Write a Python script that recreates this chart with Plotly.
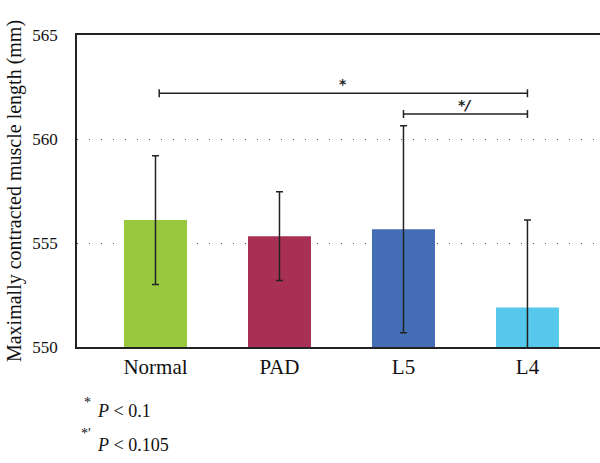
import plotly.graph_objects as go

categories = ["Normal", "PAD", "L5", "L4"]
means = [556.1, 555.33, 555.66, 551.9]
sd = [3.1, 2.13, 4.98, 4.2]
colors = ["#97C83E", "#A83054", "#436EB5", "#55C8EC"]
y_ticks = [550, 555, 560, 565]

# significance brackets: (from index, to index, y level, label)
brackets = [(0.03, 3, 562.2, "<b>*</b>"), (2, 3, 561.2, "<b>*<i>/</i></b>")]

FONT = "Liberation Serif"

fig = go.Figure()
fig.add_trace(go.Bar(
    x=categories, y=means,
    marker=dict(color=colors, line=dict(width=0)),
    width=0.508,
    error_y=dict(type="data", array=sd, visible=True, color="#222222",
                 thickness=1.5, width=3.5),
))

for x0, x1, yv, lab in brackets:
    fig.add_shape(type="line", xref="x", yref="y", x0=x0, x1=x1, y0=yv, y1=yv,
                  line=dict(color="#222222", width=1.5))
    for xx in (x0, x1):
        fig.add_shape(type="line", xref="x", yref="y", x0=xx, x1=xx,
                      y0=yv - 0.19, y1=yv + 0.19,
                      line=dict(color="#222222", width=1.5))
    fig.add_annotation(x=(x0 + x1) / 2, y=yv, xref="x", yref="y", text=lab,
                       showarrow=False, yanchor="bottom", yshift=-1,
                       font=dict(family="DejaVu Sans", size=14, color="#222222"))

# footnotes
fig.add_annotation(xref="paper", yref="paper", x=(93 - 77) / 523, y=(347 - 402) / 312,
                   text="*", showarrow=False, xanchor="right", yanchor="middle",
                   font=dict(family=FONT, size=14, color="#111111"))
fig.add_annotation(xref="paper", yref="paper", x=(95 - 77) / 523, y=(347 - 411) / 312,
                   text="<i>P</i> < 0.1", showarrow=False, xanchor="left", yanchor="middle",
                   font=dict(family=FONT, size=18, color="#111111"))
fig.add_annotation(xref="paper", yref="paper", x=(93 - 77) / 523, y=(347 - 434) / 312,
                   text="*′", showarrow=False, xanchor="right", yanchor="middle",
                   font=dict(family=FONT, size=14, color="#111111"))
fig.add_annotation(xref="paper", yref="paper", x=(95 - 77) / 523, y=(347 - 445) / 312,
                   text="<i>P</i> < 0.105", showarrow=False, xanchor="left", yanchor="middle",
                   font=dict(family=FONT, size=18, color="#111111"))

fig.update_layout(
    width=600, height=463,
    margin=dict(l=77, r=0, t=35, b=116),
    plot_bgcolor="white", paper_bgcolor="white",
    showlegend=False,
    font=dict(family=FONT, size=17, color="#111111"),
    xaxis=dict(type="category", range=[-0.633, 3.585], showline=True, mirror=True,
               linecolor="#222222", linewidth=1.5, ticks="", showgrid=False,
               tickfont=dict(family=FONT, size=21)),
    yaxis=dict(range=[550, 565], tickvals=y_ticks, showline=True, linecolor="#222222",
               linewidth=1.5, ticks="", ticklabelstandoff=14, zeroline=False,
               showgrid=True, gridcolor="#555555", gridwidth=1, griddash="1px,11px",
               tickfont=dict(family=FONT, size=17),
               title=dict(text="Maximally contracted muscle length (mm)",
                          font=dict(family=FONT, size=20), standoff=5)),
)

fig.write_html("out.html")
